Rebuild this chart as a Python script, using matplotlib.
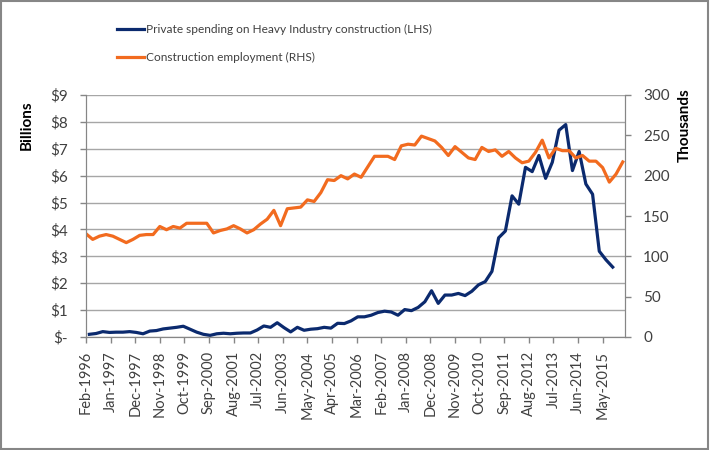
import matplotlib.pyplot as plt
from matplotlib.patches import Rectangle

# quarterly readings; x positions are months after Feb-1996
spend_billions = [
    0.10, 0.13, 0.20, 0.17, 0.18, 0.18, 0.20, 0.17, 0.12, 0.22,
    0.24, 0.30, 0.33, 0.36, 0.40, 0.29, 0.18, 0.10, 0.06, 0.12,
    0.14, 0.12, 0.14, 0.15, 0.15, 0.26, 0.41, 0.36, 0.53, 0.35,
    0.19, 0.36, 0.25, 0.29, 0.31, 0.36, 0.33, 0.51, 0.50, 0.60,
    0.75, 0.75, 0.81, 0.91, 0.96, 0.93, 0.81, 1.02, 0.98, 1.10,
    1.31, 1.72, 1.25, 1.56, 1.56, 1.62, 1.54, 1.70, 1.94, 2.06,
    2.44, 3.69, 3.94, 5.25, 4.94, 6.31, 6.15, 6.75, 5.90, 6.50,
    7.69, 7.90, 6.19, 6.90, 5.69, 5.31, 3.19, 2.87, 2.60,
]
employment_thousands = [
    128, 121, 125, 127, 125, 121, 117, 121, 126, 127,
    127, 137, 133, 137, 135, 141, 141, 141, 141, 129,
    132, 134, 138, 134, 129, 133, 140, 146, 157, 138,
    159, 160, 161, 170, 168, 179, 195, 194, 200, 196,
    202, 198, 211, 224, 224, 224, 220, 237, 239, 238,
    249, 246, 243, 235, 225, 236, 229, 222, 220, 235,
    230, 232, 224, 230, 222, 216, 218, 229, 244, 222,
    234, 231, 231, 222, 225, 218, 218, 210, 192, 202,
    217,
]
spend_months = [1.5 + 3 * i for i in range(len(spend_billions))]
employment_months = [3 * i for i in range(len(employment_thousands))]

tick_labels = [
    "Feb-1996", "Jan-1997", "Dec-1997", "Nov-1998", "Oct-1999", "Sep-2000",
    "Aug-2001", "Jul-2002", "Jun-2003", "May-2004", "Apr-2005", "Mar-2006",
    "Feb-2007", "Jan-2008", "Dec-2008", "Nov-2009", "Oct-2010", "Sep-2011",
    "Aug-2012", "Jul-2013", "Jun-2014", "May-2015",
]
tick_months = [11 * i for i in range(len(tick_labels))]

left_ticks = list(range(10))
left_labels = ["$-"] + [f"${v}" for v in left_ticks[1:]]
right_ticks = [0, 50, 100, 150, 200, 250, 300]

BLUE = "#0B2A6E"
ORANGE = "#F26B1F"
AXIS_GREY = "#868686"
GRID_GREY = "#A6A6A6"
TEXT = "#404040"

plt.rcParams["font.family"] = ["Lato", "DejaVu Sans"]

fig = plt.figure(figsize=(7.1, 4.5), dpi=100)
fig.patches.append(Rectangle((0.002, 0.003), 0.995, 0.994, transform=fig.transFigure,
                             fill=False, edgecolor=AXIS_GREY, linewidth=1.5))

ax = fig.add_axes([86 / 710, 1 - 337 / 450, (625 - 86) / 710, (337 - 95) / 450])
ax2 = ax.twinx()

l1, = ax.plot(spend_months, spend_billions, color=BLUE, linewidth=2.3,
              label="Private spending on Heavy Industry construction (LHS)")
l2, = ax2.plot(employment_months, employment_thousands, color=ORANGE, linewidth=2.3,
               label="Construction employment (RHS)")

ax.set_xlim(0, 241)
ax.set_ylim(0, 9)
ax2.set_ylim(0, 300)

ax.set_yticks(left_ticks)
ax.set_yticklabels(left_labels)
ax2.set_yticks(right_ticks)
ax.set_xticks(tick_months)
ax.set_xticklabels(tick_labels, rotation=90)

ax.grid(axis="y", color=GRID_GREY, linewidth=1)
ax.set_axisbelow(True)

for a in (ax, ax2):
    for side in ("left", "right", "bottom"):
        a.spines[side].set_color(AXIS_GREY)
    a.spines["top"].set_visible(False)
    a.tick_params(colors=AXIS_GREY, labelcolor=TEXT, labelsize=11, length=4, width=1)
ax.tick_params(axis="y", pad=9)
ax2.tick_params(axis="y", pad=9)
ax.tick_params(axis="x", labelsize=10.5, pad=6)

fig.text(27 / 710, 1 - 125 / 450, "Billions", rotation=90, ha="center", va="center",
         fontsize=11, fontweight="bold", color="black")
fig.text(685 / 710, 1 - 125 / 450, "Thousands", rotation=90, ha="center", va="center",
         fontsize=11, fontweight="bold", color="black")

fig.legend(handles=[l1, l2], loc="upper left", bbox_to_anchor=(106 / 710, 1 - 13 / 450),
           frameon=False, fontsize=8.6, handlelength=2.3, handletextpad=0.15,
           labelspacing=1.45, labelcolor=TEXT)

fig.savefig("out.png", dpi=100)
